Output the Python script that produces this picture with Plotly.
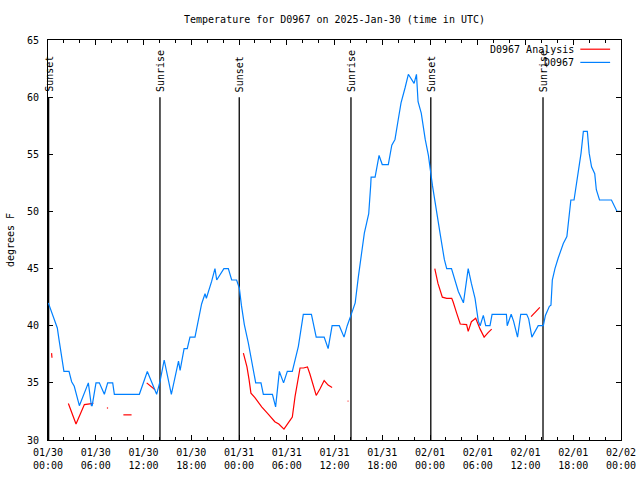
import pandas as pd
import plotly.graph_objects as go

# ---- data (hours since 2025-01-30 00:00 UTC) ----
obs_hours = [0.04, 0.88, 1.17, 1.38, 1.72, 2.0, 2.64, 2.97, 3.3, 3.94, 5.07, 5.45, 5.55, 6.03,
             6.45, 7.08, 7.5, 8.13, 8.34, 11.48, 12.48, 13.65, 14.07, 14.6, 15.5, 16.4, 16.6,
             17.1, 17.5, 17.84, 18.47, 18.7, 19.3, 19.73, 19.9, 20.57, 20.98, 21.2, 21.6, 22.1,
             22.66, 23.08, 23.7, 24.04, 24.3, 24.67, 25.17, 25.6, 26.1, 26.76, 27.06, 28.2,
             28.6, 29.07, 29.6, 30.07, 30.7, 31.46, 32.08, 33.1, 33.7, 34.7, 35.2, 35.7, 36.6,
             37.2, 37.6, 38.16, 38.6, 39.0, 39.4, 39.75, 40.04, 40.3, 40.55, 40.6, 41.1, 41.4,
             41.6, 42.0, 42.76, 43.2, 43.6, 44.0, 44.36, 44.86, 45.28, 46.0, 46.3, 46.5, 46.9,
             47.4, 47.8, 48.3, 48.7, 49.26, 49.8, 50.1, 50.7, 51.1, 51.56, 52.2, 52.8, 53.2,
             53.66, 54.07, 54.3, 54.7, 55.0, 55.54, 55.8, 57.6, 57.7, 58.2, 58.5, 59.0, 59.4,
             60.15, 60.4, 60.8, 61.6, 62.24, 62.5, 63.0, 63.2, 63.37, 63.7, 64.1, 64.75, 65.2,
             65.4, 65.7, 66.1, 66.4, 66.7, 66.98, 67.27, 67.77, 68.0, 68.3, 68.7, 68.9, 69.3,
             70.8, 71.5, 72.0]
obs_temp = [42, 40.4, 39.8, 38.8, 37.3, 36, 36, 35.1, 34.7, 33, 35, 33, 33, 35,
            35, 34, 35, 35, 34, 34, 36, 34, 35.1, 37, 34, 36.9, 36.1,
            38, 38, 39, 39, 39.9, 41.9, 42.8, 42.4, 43.9, 45, 44, 44.4, 45,
            45, 44, 44, 43.3, 41.8, 40.1, 38.5, 37, 35, 35, 34, 34,
            32.9, 36, 35, 36, 36, 38.2, 41, 41, 39, 39, 38, 40, 40,
            39, 40, 41.1, 42, 44.3, 46.3, 48.1, 49, 49.8, 52.3, 53, 53, 54.2,
            54.9, 54.1, 54.1, 55.8, 56.3, 58, 59.5, 60.8, 62, 61.2, 62, 59.6, 58.6,
            56.3, 54.9, 52.3, 50.4, 48.1, 45.8, 45, 45, 44, 43, 42, 45, 43.7,
            42.4, 40.4, 40, 40.9, 40, 40, 41, 41, 40, 41, 40.4, 39, 41,
            41, 40.6, 39, 40, 40, 40.9, 41.7, 41.8, 44, 45, 45.9, 47.2, 47.8,
            49, 51, 51, 52.5, 53.6, 55.1, 57, 57, 55.1, 53.9, 53.3, 51.9, 51,
            51, 50, 50]

ana_hours = [0.45, 0.5, None,
             2.56, 3.52, 4.57, 5.7, None,
             7.4, 7.55, None,
             9.47, 10.5, None,
             12.4, 13.45, None,
             24.55, 25.0, 25.26, 25.5, 26.0, 26.85, 27.7, 28.5, 29.0, 29.65, 30.3, 30.7,
             31.04, 31.4, 31.67, 32.1, 32.6, 32.9, 33.2, 33.7, 34.2, 34.7, 35.2, 35.7, None,
             37.65, 37.75, None,
             48.6, 49.0, 49.55, 50.1, 50.73, 50.9, 51.35, 51.8, 52.6, 52.8, 53.2, 53.74,
             54.3, 54.8, 55.3, 55.75, None,
             60.7, 61.8]
ana_temp = [37.6, 37.2, None,
            33.2, 31.4, 33.1, 33.2, None,
            32.8, 32.8, None,
            32.2, 32.2, None,
            35.0, 34.4, None,
            37.6, 36.4, 35.3, 34.1, 33.7, 32.9, 32.25, 31.6, 31.4, 30.95, 31.6, 32.0,
            33.8, 35.3, 36.3, 36.3, 36.4, 35.8, 35.0, 33.9, 34.5, 35.2, 34.8, 34.6, None,
            33.4, 33.4, None,
            45.0, 43.7, 42.5, 42.4, 42.4, 42.1, 41.1, 40.15, 40.1, 39.5, 40.35, 40.65,
            39.7, 39.0, 39.4, 39.7, None,
            40.8, 41.6]

sun_hours = [0.08, 14.07, 24.03, 38.07, 48.1, 62.2]
sun_labels = ["Sunset", "Sunrise", "Sunset", "Sunrise", "Sunset", "Sunrise"]
sun_line_low = 30
sun_line_high = 60

tick_hours = [0, 6, 12, 18, 24, 30, 36, 42, 48, 54, 60, 66, 72]
tick_labels = ["01/30<br>00:00", "01/30<br>06:00", "01/30<br>12:00", "01/30<br>18:00",
               "01/31<br>00:00", "01/31<br>06:00", "01/31<br>12:00", "01/31<br>18:00",
               "02/01<br>00:00", "02/01<br>06:00", "02/01<br>12:00", "02/01<br>18:00",
               "02/02<br>00:00"]

base = pd.Timestamp("2025-01-30 00:00:00")


def to_time(hs):
    return [None if h is None else (base + pd.Timedelta(hours=h)).strftime("%Y-%m-%d %H:%M:%S")
            for h in hs]


FONT = "DejaVu Sans Mono"

fig = go.Figure()

# sunrise / sunset lines
sx, sy = [], []
for h in sun_hours:
    sx += [h, h, None]
    sy += [sun_line_low, sun_line_high, None]
fig.add_trace(go.Scatter(x=to_time(sx), y=sy, mode="lines",
                         line=dict(color="black", width=1.3), showlegend=False,
                         hoverinfo="skip"))

fig.add_trace(go.Scatter(x=to_time(ana_hours), y=ana_temp, mode="lines",
                         line=dict(color="#ff0000", width=1.2), name="D0967 Analysis",
                         connectgaps=False, showlegend=False))
fig.add_trace(go.Scatter(x=to_time(obs_hours), y=obs_temp, mode="lines",
                         line=dict(color="#0080ff", width=1.2), name="D0967",
                         showlegend=False))

for h, lab in zip(sun_hours, sun_labels):
    fig.add_annotation(x=to_time([h])[0], y=sun_line_high, text=lab, textangle=-90,
                       showarrow=False, xanchor="center", yanchor="bottom", yshift=3,
                       font=dict(family=FONT, size=10, color="black"))

# manual legend (gnuplot style, sample on the right)
legend_names = ["D0967 Analysis", "D0967"]
legend_colors = ["#ff0000", "#0080ff"]
legend_y = [0.977, 0.944]
for name, col, ly in zip(legend_names, legend_colors, legend_y):
    fig.add_annotation(x=0.921, y=ly, xref="paper", yref="paper", text=name,
                       showarrow=False, xanchor="right", yanchor="middle",
                       font=dict(family=FONT, size=10, color="black"))
    fig.add_shape(type="line", xref="paper", yref="paper", x0=0.929, x1=0.981,
                  y0=ly, y1=ly, line=dict(color=col, width=1.2))

fig.update_layout(
    width=640, height=480,
    margin=dict(l=48, r=19, t=40, b=40, autoexpand=False),
    paper_bgcolor="white", plot_bgcolor="white",
    font=dict(family=FONT, size=10, color="black"),
    title=dict(text="Temperature for D0967 on 2025-Jan-30 (time in UTC)",
               x=0.5, xref="paper", xanchor="center",
               y=1 - 19 / 480, yref="container", yanchor="middle",
               font=dict(family=FONT, size=10, color="black")),
    showlegend=False,
)

fig.update_xaxes(
    type="date", automargin=False,
    range=[to_time([0])[0], to_time([72])[0]],
    tickmode="array", tickvals=to_time(tick_hours), ticktext=tick_labels,
    ticks="inside", ticklen=5, tickcolor="black",
    minor=dict(ticks="inside", ticklen=3, dtick=2 * 3600 * 1000,
               tick0=to_time([0])[0], tickcolor="black", showgrid=False),
    showline=True, linecolor="black", linewidth=1, mirror="allticks",
    showgrid=False, zeroline=False,
    tickfont=dict(family=FONT, size=10, color="black"),
    ticklabelstandoff=3,
)
fig.update_yaxes(
    automargin=False,
    range=[30, 65], dtick=5, tick0=30,
    ticks="inside", ticklen=5, tickcolor="black",
    showline=True, linecolor="black", linewidth=1, mirror="allticks",
    showgrid=False, zeroline=False,
    tickfont=dict(family=FONT, size=10, color="black"),
    title=dict(text="degrees F", standoff=10,
               font=dict(family=FONT, size=10, color="black")),
    ticklabelstandoff=6,
)

fig.write_html("out.html", config={"displayModeBar": False},
               post_script="document.body.style.margin='0';")
